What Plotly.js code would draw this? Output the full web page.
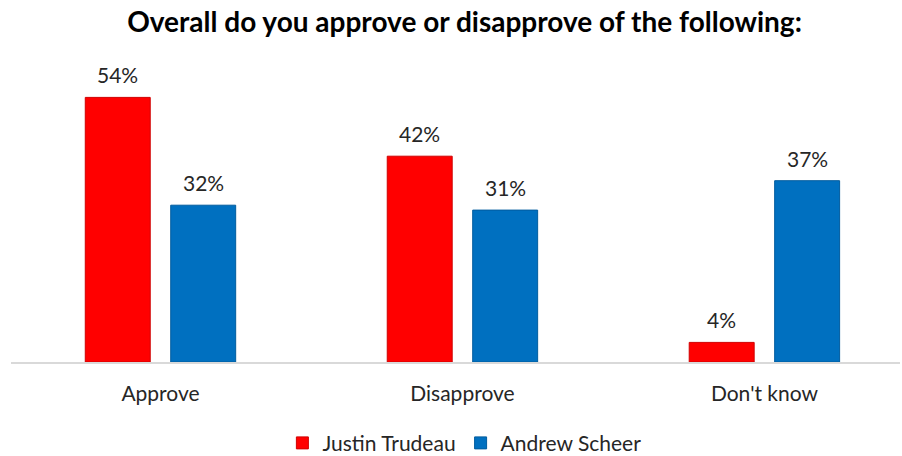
<!DOCTYPE html>
<html>
<head>
<meta charset="utf-8">
<script src="https://cdn.plot.ly/plotly-3.0.1.min.js"></script>
<style>html,body{margin:0;padding:0;background:#fff;}#chart{width:902px;height:456px;}</style>
</head>
<body>
<div id="chart"></div>
<script>
const categories = ["Approve", "Disapprove", "Don't know"];
const trudeau = [54, 42, 4];
const scheer = [32, 31, 37];
const seriesNames = ["Justin Trudeau", "Andrew Scheer"];
const colors = ["#FF0000", "#0070C0"];
const lineColors = ["#D00000", "#005C9E"];

const font = "Lato, 'Open Sans', sans-serif";
const traces = [trudeau, scheer].map((vals, i) => ({
  type: "bar",
  name: seriesNames[i],
  x: categories,
  y: vals,
  marker: {color: colors[i], line: {color: lineColors[i], width: 1}},
  hoverinfo: "none"
}));

const annotations = [];
const offsets = [-0.1416, 0.1416];
[trudeau, scheer].forEach((vals, i) => {
  vals.forEach((v, j) => {
    annotations.push({
      x: j + offsets[i], y: v, xref: "x", yref: "y",
      text: v + "%", showarrow: false, yanchor: "bottom", yshift: 8,
      font: {family: font, size: 21, color: "#262626"}
    });
  });
});

const layout = {
  width: 902, height: 456,
  margin: {l: 11, r: 2, t: 68, b: 94, autoexpand: false},
  paper_bgcolor: "#fff", plot_bgcolor: "#fff",
  title: {text: "<b>Overall do you approve or disapprove of the following:</b>", x: 0.515, xanchor: "center", y: 0.952, yanchor: "middle", yref: "container",
          font: {family: font, size: 28, color: "#000"}},
  barmode: "group",
  bargap: 0.434,
  bargroupgap: 0.24,
  xaxis: {type: "category", range: [-0.495, 2.449], showline: true, linecolor: "#D9D9D9", linewidth: 2,
          ticks: "outside", ticklen: 12, tickcolor: "rgba(0,0,0,0)",
          tickfont: {family: font, size: 21, color: "#262626"}, showgrid: false, zeroline: false, fixedrange: true},
  yaxis: {range: [0, 60], visible: false, showgrid: false, zeroline: false, fixedrange: true},
  showlegend: true,
  legend: {orientation: "h", x: 0.51, xanchor: "center", y: 0.028, yanchor: "middle", yref: "container",
           font: {family: font, size: 21, color: "#262626"}, itemwidth: 30, traceorder: "normal"},
  annotations: annotations
};
Plotly.newPlot("chart", traces, layout, {displayModeBar: false, staticPlot: true});
</script>
</body>
</html>
